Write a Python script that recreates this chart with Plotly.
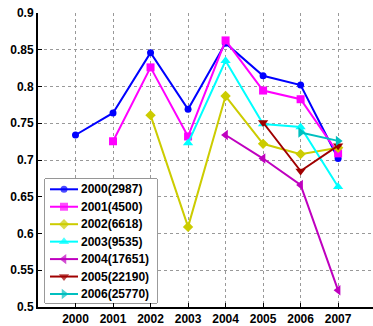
import plotly.graph_objects as go

years = [2000, 2001, 2002, 2003, 2004, 2005, 2006, 2007]

series_names = ["2000(2987)", "2001(4500)", "2002(6618)", "2003(9535)",
                "2004(17651)", "2005(22190)", "2006(25770)"]

s2000 = [0.734, 0.764, 0.846, 0.769, 0.859, 0.8145, 0.802, 0.702]
s2001 = [0.7255, 0.826, 0.732, 0.8627, 0.7945, 0.7827, 0.709]
s2002 = [0.761, 0.609, 0.787, 0.722, 0.708, 0.7167]
s2003 = [0.723, 0.835, 0.749, 0.745, 0.6635]
s2004 = [0.734, 0.702, 0.666, 0.5227]
s2005 = [0.751, 0.685, 0.7195]
s2006 = [0.7375, 0.726]

all_values = [s2000, s2001, s2002, s2003, s2004, s2005, s2006]

colors = ["#0000FF", "#FF00FF", "#CCCC00", "#00FFFF", "#BF00BF", "#A00000", "#00BFBF"]
symbols = ["circle", "square", "diamond", "triangle-up", "triangle-left",
           "triangle-down", "triangle-right"]
msizes = [7, 8, 8, 9, 9, 9, 9]

y_ticks = [0.5, 0.55, 0.6, 0.65, 0.7, 0.75, 0.8, 0.85, 0.9]
y_ticklabels = ["0.5", "0.55", "0.6", "0.65", "0.7", "0.75", "0.8", "0.85", "0.9"]

font_family = "Liberation Sans, Arial, sans-serif"
bold12 = dict(family=font_family, size=12, color="black", weight="bold")

fig = go.Figure()

# main data series
for name, vals, c, sym, ms in zip(series_names, all_values, colors, symbols, msizes):
    xs = years[len(years) - len(vals):]
    fig.add_trace(go.Scatter(
        x=xs, y=vals, name=name, mode="lines+markers",
        line=dict(color=c, width=2),
        marker=dict(symbol=sym, size=ms, color=c, line=dict(width=0)),
        showlegend=False, hoverinfo="skip",
    ))

# legend (drawn on a hidden inset axis so its rows follow MATLAB spacing)
leg_rows = list(range(len(series_names)))
for i, name, c, sym, ms in zip(leg_rows, series_names, colors, symbols, msizes):
    fig.add_trace(go.Scatter(
        x=[5, 19, 33], y=[i, i, i], xaxis="x2", yaxis="y2",
        mode="lines+markers",
        line=dict(color=c, width=2),
        marker=dict(symbol=sym, size=[0, ms, 0], color=c, line=dict(width=0)),
        showlegend=False, hoverinfo="skip", cliponaxis=False,
    ))
    fig.add_annotation(
        x=34, y=i, xref="x2", yref="y2", text=name, showarrow=False,
        xanchor="left", yanchor="middle", font=bold12,
    )

fig.add_shape(
    type="rect", xref="x2 domain", yref="y2 domain", x0=0, x1=1, y0=0, y1=1,
    fillcolor="white", line=dict(color="#333333", width=1), layer="below",
)

axis_common = dict(
    showline=True, linecolor="black", linewidth=2, mirror=False,
    ticks="inside", ticklen=4, tickcolor="black", tickwidth=1,
    showgrid=True, gridcolor="#999999", griddash="dot", gridwidth=1,
    zeroline=False, automargin=False, tickfont=bold12,
)

fig.update_layout(
    width=373, height=326,
    margin=dict(l=38, r=0, t=13, b=19, autoexpand=False),
    paper_bgcolor="white", plot_bgcolor="white",
    font=dict(family=font_family, size=12, color="black"),
    showlegend=False, hovermode=False,
    xaxis=dict(range=[1999, 2007.93], tickvals=years,
               ticktext=[str(y) for y in years], **axis_common),
    yaxis=dict(range=[0.5, 0.9], tickvals=y_ticks, ticktext=y_ticklabels,
               **axis_common),
    xaxis2=dict(domain=[0.0209, 0.3552], range=[0, 112], anchor="y2",
                visible=False, fixedrange=True),
    yaxis2=dict(domain=[0.0136, 0.4354], range=[6.516, -0.59], anchor="x2",
                visible=False, fixedrange=True),
)

fig.write_html(
    "out.html",
    config={"displayModeBar": False, "staticPlot": True},
    post_script="document.body.style.margin='0';document.body.style.overflow='hidden';",
)
